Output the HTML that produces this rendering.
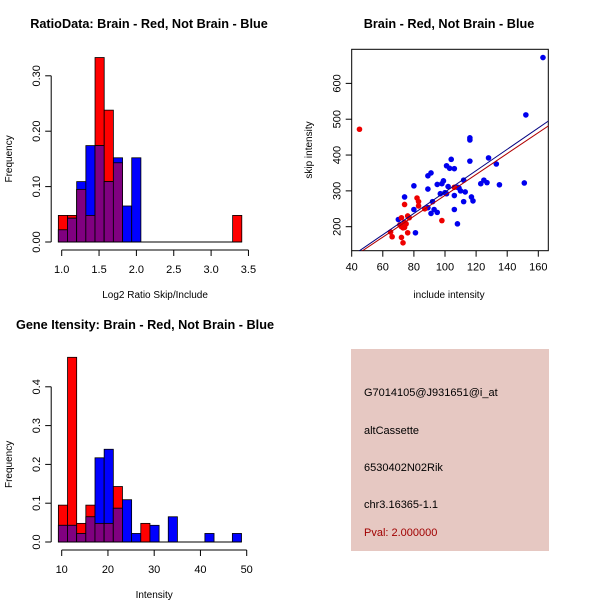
<!DOCTYPE html>
<html><head><meta charset="utf-8"><style>
body{margin:0;background:#fff}
svg{display:block;font-family:"Liberation Sans",sans-serif}
</style></head><body>
<svg id="s" width="600" height="600" viewBox="0 0 600 600">
<rect width="600" height="600" fill="#fff"/>
<g id="g1"></g>
<g id="g2"></g>
<g id="g3"></g>
<g>
<rect x="351" y="349" width="198" height="202" fill="#e6c8c2"/>
<text x="364" y="396" font-size="11" fill="#000">G7014105@J931651@i_at</text>
<text x="364" y="434" font-size="11" fill="#000">altCassette</text>
<text x="364" y="471" font-size="11" fill="#000">6530402N02Rik</text>
<text x="364" y="508" font-size="11" fill="#000">chr3.16365-1.1</text>
<text x="364" y="536" font-size="11" fill="#a00000">Pval: 2.000000</text>
</g>
</svg>
<script>
// Histogram 1
const h1Start=0.955, h1Width=0.1228;
const h1Red=[0.048,0.048,0.095,0.048,0.333,0.238,0.143,0,0,0,0,0,0,0,0,0,0,0,0,0.048];
const h1Blue=[0.022,0.043,0.109,0.174,0.174,0.109,0.152,0.065,0.152,0,0,0,0,0,0,0,0,0,0,0];
const h1XTicks=["1.0","1.5","2.0","2.5","3.0","3.5"];
const h1YTicks=["0.00","0.10","0.20","0.30"];
// Histogram 2
const h2Start=9.28, h2Width=1.98;
const h2Red=[0.095,0.476,0.048,0.095,0.048,0.048,0.143,0,0,0.048,0,0,0,0,0,0,0,0,0,0];
const h2Blue=[0.043,0.043,0.022,0.065,0.217,0.239,0.087,0.109,0.022,0,0.043,0,0.065,0,0,0,0.022,0,0,0.022];
const h2XTicks=["10","20","30","40","50"];
const h2YTicks=["0.0","0.1","0.2","0.3","0.4"];
// Scatter
const blueX=[163,152,151,135,133,128,127,125,123,118,117,116,116,116,113,112,112,110,109,108,106,106,106,104,103,102,101,101,99,98,97,95,95,93,92,91,91,89,89,89,80,80,81,74,70,100,108];
const blueY=[672,512,322,317,375,392,323,330,320,272,283,383,442,448,297,270,330,300,308,208,248,287,362,388,363,312,370,292,328,320,292,318,240,248,270,237,350,342,305,253,314,248,183,283,220,295,310];
const redX=[45,65,66,72,73,72,72,73,74,74,75,76,76,77,82,83,83,87,98,106,74,71];
const redY=[472,185,172,170,155,225,200,197,212,262,208,230,183,225,280,270,258,250,217,310,198,205];
const blueFit=[-1.2,2.98], redFit=[-4,2.915];
const sXTicks=["40","60","80","100","120","140","160"];
const sYTicks=["200","300","400","500","600"];

const NS="http://www.w3.org/2000/svg";
function mk(p,t,a){const e=document.createElementNS(NS,t);for(const k in a)e.setAttribute(k,a[k]);p.appendChild(e);return e;}
function txt(p,x,y,s,o){const e=mk(p,'text',Object.assign({x:x,y:y,'font-size':11,'text-anchor':'middle',fill:'#000'},o||{}));e.textContent=s;return e;}

function hist(g,start,w,red,blue,xt,yt,xs,ys,base,yMax,title,xlab,titleY,titleX){
  const X=v=>xs[0]+(v-xs[1])*xs[2];
  const Y=v=>base-v*ys;
  for(let i=0;i<red.length;i++){
    const x0=X(start+i*w),x1=X(start+(i+1)*w);
    const r=red[i],b=blue[i];
    if(r>0){const e=mk(g,'rect',{x:x0,y:Y(r),width:x1-x0,height:base-Y(r),fill:'#ff0000',stroke:'#000','stroke-width':0.8});
      }
    if(b>0){const e=mk(g,'rect',{x:x0,y:Y(b),width:x1-x0,height:base-Y(b),fill:'#0000ff',stroke:'#000','stroke-width':0.8});
      }
    const m=Math.min(r,b);
    if(m>0){const e=mk(g,'rect',{x:x0,y:Y(m),width:x1-x0,height:base-Y(m),fill:'#800080',stroke:'#000','stroke-width':0.8});
      }
  }
  const xe=X(start+red.length*w);
  mk(g,'line',{x1:X(start),x2:xe,y1:base,y2:base,stroke:'#000'});
  const xv=xt.map(Number);
  const ax=mk(g,'g',{});
  mk(ax,'line',{x1:X(xv[0]),x2:X(xv[xv.length-1]),y1:base+8,y2:base+8,stroke:'#000'});
  xt.forEach((s,i)=>{mk(ax,'line',{x1:X(xv[i]),x2:X(xv[i]),y1:base+8,y2:base+14,stroke:'#000'});txt(ax,X(xv[i]),base+31,s);});
  const ay=mk(g,'g',{});
  const yv=yt.map(Number);
  const axX=xs[0]-10.5;
  mk(ay,'line',{x1:axX,x2:axX,y1:Y(yv[0]),y2:Y(yv[yv.length-1]),stroke:'#000'});
  yt.forEach((s,i)=>{mk(ay,'line',{x1:axX-6,x2:axX,y1:Y(yv[i]),y2:Y(yv[i]),stroke:'#000'});
    txt(ay,axX-11,Y(yv[i]),s,{transform:`rotate(-90 ${axX-11} ${Y(yv[i])})`});});
  const yl=txt(g,12,(Y(yv[0])+Y(yv[yv.length-1]))/2,'Frequency',{'font-size':10,transform:`rotate(-90 12 ${(Y(yv[0])+Y(yv[yv.length-1]))/2})`});
  
  const xl=txt(g,(X(xv[0])+X(xv[xv.length-1]))/2,base+56,xlab,{'font-size':10});
  
  const t=txt(g,titleX,titleY,title,{'font-size':12.7,'font-weight':'bold'});
  
}
hist(document.getElementById('g1'),h1Start,h1Width,h1Red,h1Blue,h1XTicks,h1YTicks,[61.7,1.0,74.7],554,242,0.3,'RatioData: Brain - Red, Not Brain - Blue','Log2 Ratio Skip/Include',28,149);
hist(document.getElementById('g3'),h2Start,h2Width,h2Red,h2Blue,h2XTicks,h2YTicks,[61.7,10,4.625],388,542,0.4,'Gene Itensity: Brain - Red, Not Brain - Blue','Intensity',329,145);

(function(){
  const g=document.getElementById('g2');
  const L=351.7,R=548.3,T=49.3,B=250.7;
  const X=v=>351.7+(v-40)*1.555;
  const Y=v=>226.7-(v-200)*0.3583;
  const cp=mk(g,'clipPath',{id:'cp'});mk(cp,'rect',{x:L,y:T,width:R-L,height:B-T});
  const f=mk(g,'rect',{x:L,y:T,width:R-L,height:B-T,fill:'none',stroke:'#000'});
  
  blueX.forEach((x,i)=>{const c=mk(g,'circle',{cx:X(x),cy:Y(blueY[i]),r:2.8,fill:'#0000ee'});
    });
  redX.forEach((x,i)=>{const c=mk(g,'circle',{cx:X(x),cy:Y(redY[i]),r:2.8,fill:'#ee0000'});
    });
  const x0=30,x1=180;
  const bl=mk(g,'line',{x1:X(x0),y1:Y(blueFit[0]+blueFit[1]*x0),x2:X(x1),y2:Y(blueFit[0]+blueFit[1]*x1),stroke:'#000080','clip-path':'url(#cp)'});
  
  const rl=mk(g,'line',{x1:X(x0),y1:Y(redFit[0]+redFit[1]*x0),x2:X(x1),y2:Y(redFit[0]+redFit[1]*x1),stroke:'#b00000','clip-path':'url(#cp)'});
  
  const ax=mk(g,'g',{});
  sXTicks.forEach(s=>{const x=X(+s);mk(ax,'line',{x1:x,x2:x,y1:B,y2:B+6,stroke:'#000'});txt(ax,x,B+20,s);});
  const ay=mk(g,'g',{});
  sYTicks.forEach(s=>{const y=Y(+s);mk(ay,'line',{x1:L-6,x2:L,y1:y,y2:y,stroke:'#000'});
    txt(ay,L-11,y,s,{transform:`rotate(-90 ${L-11} ${y})`});});
  const t=txt(g,449,28,'Brain - Red, Not Brain - Blue',{'font-size':12.7,'font-weight':'bold'});
  
  const xl=txt(g,449,298,'include intensity',{'font-size':10});
  
  const yl=txt(g,312,150,'skip intensity',{'font-size':10,transform:'rotate(-90 312 150)'});
  
})();
</script>
</body></html>
